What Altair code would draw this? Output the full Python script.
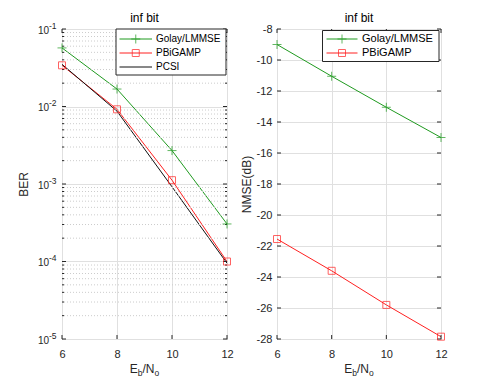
import altair as alt
import pandas as pd

# ---------------- data ----------------
ebno = [6, 8, 10, 12]
ber_series = ["Golay/LMMSE", "PBiGAMP", "PCSI"]
ber_golay = [0.057, 0.0168, 0.0027, 0.000305]
ber_pbigamp = [0.034, 0.0092, 0.00112, 0.0001]
ber_pcsi = [0.035, 0.0087, 0.00092, 0.000095]

nmse_series = ["Golay/LMMSE", "PBiGAMP"]
nmse_golay = [-9.0, -11.05, -13.05, -15.0]
nmse_pbigamp = [-21.55, -23.6, -25.8, -27.85]

series_colors = ["#1f9a1f", "#ff2020", "#111111"]
series_markers = ["plus", "square", "none"]

x_ticks = [6, 8, 10, 12]
ber_decades = [1e-5, 1e-4, 1e-3, 1e-2, 1e-1]
ber_tick_base = ["10", "10", "10", "10", "10"]
ber_tick_exp = ["-5", "-4", "-3", "-2", "-1"]
ber_minor_mult = [2, 3, 4, 5, 6, 7, 8, 9]
nmse_ticks = [-28, -26, -24, -22, -20, -18, -16, -14, -12, -10, -8]

panel_title = "inf bit"
ber_ylabel = "BER"
nmse_ylabel = "NMSE(dB)"
xlabel_parts = ["E", "b", "/N", "o"]

# ---------------- tables ----------------
ber_df = pd.DataFrame({
    "series": [s for s in ber_series for _ in ebno],
    "ebno": ebno * 3,
    "val": ber_golay + ber_pbigamp + ber_pcsi,
})
nmse_df = pd.DataFrame({
    "series": [s for s in nmse_series for _ in ebno],
    "ebno": ebno * 2,
    "val": nmse_golay + nmse_pbigamp,
})
ber_major_df = pd.DataFrame({"v": ber_decades, "base": ber_tick_base, "exp": ber_tick_exp})
ber_minor_df = pd.DataFrame({"v": [m * d for d in ber_decades[:-1] for m in ber_minor_mult]})
xt_df = pd.DataFrame({"t": x_ticks})
nmse_t_df = pd.DataFrame({"v": nmse_ticks})

# ---------------- styles ----------------
FONT = "Liberation Sans"
AX = "#262626"
GRID = "#e0e0e0"
W1, W2, H = 165, 164, 310
plus_path = "M-1,0H1M0,-1V1"

XSC = alt.Scale(domain=[6, 12], nice=False, zero=False)
XAXIS = alt.Axis(values=x_ticks, grid=True, gridColor=GRID, ticks=False,
                 domain=False, labelFontSize=11, labelPadding=9, labelColor=AX,
                 labelFont=FONT, labelFlush=False, labelOverlap=False, title=None)


def one(key, val):
    return alt.InlineData(values=[{key: val}])


def legend_layers(series, box, rows, line_x, label_x, fs):
    x0, x1, y0, y1 = box
    out = [alt.Chart(one("k", 1)).mark_rect(
        fill="white", stroke=AX, strokeWidth=1).encode(
        x=alt.value(x0), x2=alt.value(x1), y=alt.value(y0), y2=alt.value(y1))]
    for i, s in enumerate(series):
        d = one("name", s)
        yy = rows[i]
        out.append(alt.Chart(d).mark_rule(color=series_colors[i], strokeWidth=1).encode(
            x=alt.value(line_x[0]), x2=alt.value(line_x[1]), y=alt.value(yy)))
        mk = series_markers[i]
        cx = (line_x[0] + line_x[1]) / 2
        if mk == "plus":
            out.append(alt.Chart(d).mark_point(shape=plus_path, size=81, filled=False,
                                               strokeWidth=1, color=series_colors[i]).encode(
                x=alt.value(cx), y=alt.value(yy)))
        elif mk == "square":
            out.append(alt.Chart(d).mark_point(shape="square", size=49, filled=False,
                                               strokeWidth=1, color=series_colors[i]).encode(
                x=alt.value(cx), y=alt.value(yy)))
        out.append(alt.Chart(d).mark_text(align="left", baseline="middle", fontSize=fs,
                                          font=FONT, color="#000000").encode(
            x=alt.value(label_x), y=alt.value(yy), text="name:N"))
    return out


def panel(df, series, ysc, yaxis, width, ydfs, extra, leg):
    colsc = alt.Scale(domain=series, range=series_colors[:len(series)])
    X = lambda f: alt.X(f, scale=XSC, axis=XAXIS)
    Y = lambda f: alt.Y(f, scale=ysc, axis=yaxis)
    base = alt.Chart(df)
    lines = base.mark_line(strokeWidth=1).encode(
        x=X("ebno:Q"), y=Y("val:Q"),
        color=alt.Color("series:N", scale=colsc, legend=None),
    )
    plus = base.transform_filter(alt.datum.series == series[0]).mark_point(
        shape=plus_path, size=81, filled=False, strokeWidth=1).encode(
        x=X("ebno:Q"), y=Y("val:Q"),
        color=alt.Color("series:N", scale=colsc, legend=None),
    )
    sq = base.transform_filter(alt.datum.series == series[1]).mark_point(
        shape="square", size=49, filled=False, strokeWidth=1).encode(
        x=X("ebno:Q"), y=Y("val:Q"),
        color=alt.Color("series:N", scale=colsc, legend=None),
    )
    # inward ticks
    tks = []
    for d_, ln in ydfs:
        tks.append(alt.Chart(d_).mark_rule(color=AX).encode(
            y=Y("v:Q"), x=alt.value(0), x2=alt.value(ln)))
        tks.append(alt.Chart(d_).mark_rule(color=AX).encode(
            y=Y("v:Q"), x=alt.value(width - ln), x2=alt.value(width)))
    tks.append(alt.Chart(xt_df).mark_rule(color=AX).encode(
        x=X("t:Q"), y=alt.value(H), y2=alt.value(H - 4)))
    tks.append(alt.Chart(xt_df).mark_rule(color=AX).encode(
        x=X("t:Q"), y=alt.value(0), y2=alt.value(4)))
    extra_layers = [e(Y) for e in extra]
    parts = []
    fsz = [12, 8.5, 12, 8.5]
    widths = [8.0, 4.7, 12.0, 4.7]
    pos = width / 2 - sum(widths) / 2
    for p, f, w in zip(xlabel_parts, fsz, widths):
        parts.append(alt.Chart(one("t", p)).mark_text(
            align="left", baseline="alphabetic", fontSize=f, font=FONT, color=AX).encode(
            x=alt.value(pos), y=alt.value(H + (34 if f == 12 else 37)), text="t:N"))
        pos += w
    ttl = alt.Chart(one("t", panel_title)).mark_text(
        align="center", baseline="alphabetic", fontSize=12, font=FONT, color="#000000").encode(
        x=alt.value(width / 2), y=alt.value(-7), text="t:N")
    layers = [lines] + extra_layers + tks + [plus, sq] + leg + parts + [ttl]
    return alt.layer(*layers).properties(width=width, height=H)


# ---- left panel (BER, log) ----
ysc_ber = alt.Scale(type="log", domain=[1e-5, 1e-1], nice=False)
ber_yaxis = alt.Axis(values=ber_decades, grid=True, gridColor=GRID, labels=False, ticks=False,
                     domain=False, title=ber_ylabel, titleFontSize=12,
                     titleFontWeight="normal", titleColor=AX, titleFont=FONT,
                     titlePadding=32)
ber_extra = [
    lambda Y: alt.Chart(ber_minor_df).mark_rule(color="#cccccc", strokeDash=[1, 2]).encode(
        y=Y("v:Q")),
    lambda Y: alt.Chart(ber_major_df).mark_text(align="right", baseline="middle", fontSize=10,
                                                font=FONT, color=AX, dy=1.5).encode(
        x=alt.value(-13), y=Y("v:Q"), text="base:N"),
    lambda Y: alt.Chart(ber_major_df).mark_text(align="left", baseline="middle", fontSize=8.5,
                                                font=FONT, color=AX, dy=-3.5).encode(
        x=alt.value(-13), y=Y("v:Q"), text="exp:N"),
]
leg_left = legend_layers(ber_series, (54, 164, 0, 46), [10, 24, 38], (57.5, 90), 94, 10)
left = panel(ber_df, ber_series, ysc_ber, ber_yaxis, W1,
             [(ber_major_df, 4), (ber_minor_df, 2)], ber_extra, leg_left)

# ---- right panel (NMSE, linear) ----
ysc_nmse = alt.Scale(domain=[-28, -8], nice=False, zero=False)
nmse_yaxis = alt.Axis(values=nmse_ticks, grid=True, gridColor=GRID, ticks=False,
                      domain=False, labelExpr="'' + datum.value", labelFontSize=11,
                      labelPadding=5, labelColor=AX, labelFont=FONT, labelFlush=False,
                      labelOverlap=False, title=nmse_ylabel, titleFontSize=12,
                      titleFontWeight="normal", titleColor=AX, titleFont=FONT, titlePadding=3)
leg_right = legend_layers(nmse_series, (45.5, 162, 1.5, 32.5), [10, 24], (49.5, 80.5), 85, 11)
right = panel(nmse_df, nmse_series, ysc_nmse, nmse_yaxis, W2,
              [(nmse_t_df, 4)], [], leg_right)

chart = alt.hconcat(left, right, spacing=5).resolve_scale(
    x="independent", y="independent", color="independent"
).properties(
    padding={"left": 8, "top": 3, "right": 5, "bottom": 0},
    background="white",
).configure(font=FONT).configure_view(stroke=AX, strokeWidth=1)

chart.save("out.html", embed_options={"renderer": "svg", "actions": False})
